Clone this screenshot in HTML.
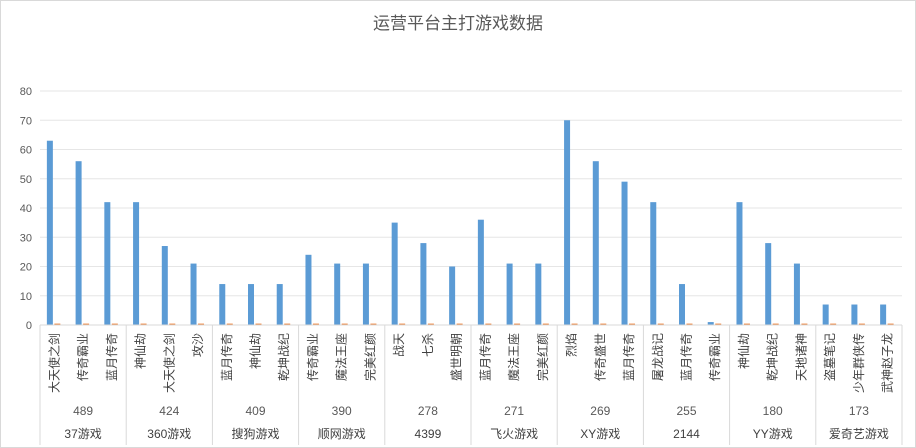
<!DOCTYPE html><html><head><meta charset="utf-8"><style>body{margin:0;background:#fff}svg{display:block}</style></head><body>
<svg width="916" height="448" xmlns="http://www.w3.org/2000/svg" font-family="Liberation Sans, Noto Sans CJK SC, sans-serif">
<rect x="0.5" y="0.5" width="915" height="447" fill="#fff" stroke="#d9d9d9"/>
<text x="458" y="29" text-anchor="middle" font-size="17" fill="#595959">运营平台主打游戏数据</text>
<g stroke="#e6e6e6">
<line x1="40" x2="902" y1="295.75" y2="295.75"/><line x1="40" x2="902" y1="266.5" y2="266.5"/><line x1="40" x2="902" y1="237.25" y2="237.25"/><line x1="40" x2="902" y1="208" y2="208"/><line x1="40" x2="902" y1="178.75" y2="178.75"/><line x1="40" x2="902" y1="149.5" y2="149.5"/><line x1="40" x2="902" y1="120.25" y2="120.25"/><line x1="40" x2="902" y1="91" y2="91"/>
</g>
<g font-size="11" fill="#595959" text-anchor="end">
<text x="32" y="329">0</text><text x="32" y="299.75">10</text><text x="32" y="270.5">20</text><text x="32" y="241.25">30</text><text x="32" y="212">40</text><text x="32" y="182.75">50</text><text x="32" y="153.5">60</text><text x="32" y="124.25">70</text><text x="32" y="95">80</text>
</g>
<g fill="#5b9bd5">
<rect x="46.87" y="140.72" width="6" height="184.28"/>
<rect x="75.6" y="161.2" width="6" height="163.8"/>
<rect x="104.33" y="202.15" width="6" height="122.85"/>
<rect x="133.07" y="202.15" width="6" height="122.85"/>
<rect x="161.8" y="246.02" width="6" height="78.98"/>
<rect x="190.53" y="263.57" width="6" height="61.43"/>
<rect x="219.27" y="284.05" width="6" height="40.95"/>
<rect x="248" y="284.05" width="6" height="40.95"/>
<rect x="276.73" y="284.05" width="6" height="40.95"/>
<rect x="305.47" y="254.8" width="6" height="70.2"/>
<rect x="334.2" y="263.57" width="6" height="61.43"/>
<rect x="362.93" y="263.57" width="6" height="61.43"/>
<rect x="391.67" y="222.62" width="6" height="102.38"/>
<rect x="420.4" y="243.1" width="6" height="81.9"/>
<rect x="449.13" y="266.5" width="6" height="58.5"/>
<rect x="477.87" y="219.7" width="6" height="105.3"/>
<rect x="506.6" y="263.57" width="6" height="61.43"/>
<rect x="535.33" y="263.57" width="6" height="61.43"/>
<rect x="564.07" y="120.25" width="6" height="204.75"/>
<rect x="592.8" y="161.2" width="6" height="163.8"/>
<rect x="621.53" y="181.67" width="6" height="143.33"/>
<rect x="650.27" y="202.15" width="6" height="122.85"/>
<rect x="679" y="284.05" width="6" height="40.95"/>
<rect x="707.73" y="322.07" width="6" height="2.93"/>
<rect x="736.47" y="202.15" width="6" height="122.85"/>
<rect x="765.2" y="243.1" width="6" height="81.9"/>
<rect x="793.93" y="263.57" width="6" height="61.43"/>
<rect x="822.67" y="304.52" width="6" height="20.48"/>
<rect x="851.4" y="304.52" width="6" height="20.48"/>
<rect x="880.13" y="304.52" width="6" height="20.48"/>
</g>
<line x1="54.37" x2="902" y1="324.3" y2="324.3" stroke="#ed7d31" stroke-width="1.4" stroke-dasharray="6 22.733"/>
<line x1="40" x2="902" y1="325" y2="325" stroke="#d9d9d9"/>
<g stroke="#d9d9d9">
<line x1="40" x2="40" y1="325" y2="445"/><line x1="126.2" x2="126.2" y1="325" y2="445"/><line x1="212.4" x2="212.4" y1="325" y2="445"/><line x1="298.6" x2="298.6" y1="325" y2="445"/><line x1="384.8" x2="384.8" y1="325" y2="445"/><line x1="471" x2="471" y1="325" y2="445"/><line x1="557.2" x2="557.2" y1="325" y2="445"/><line x1="643.4" x2="643.4" y1="325" y2="445"/><line x1="729.6" x2="729.6" y1="325" y2="445"/><line x1="815.8" x2="815.8" y1="325" y2="445"/><line x1="902" x2="902" y1="325" y2="445"/>
</g>
<g font-size="12" fill="#404040" text-anchor="end">
<text transform="translate(58.4,333) rotate(-90)">大天使之剑</text>
<text transform="translate(87.1,333) rotate(-90)">传奇霸业</text>
<text transform="translate(115.8,333) rotate(-90)">蓝月传奇</text>
<text transform="translate(144.6,333) rotate(-90)">神仙劫</text>
<text transform="translate(173.3,333) rotate(-90)">大天使之剑</text>
<text transform="translate(202,333) rotate(-90)">攻沙</text>
<text transform="translate(230.8,333) rotate(-90)">蓝月传奇</text>
<text transform="translate(259.5,333) rotate(-90)">神仙劫</text>
<text transform="translate(288.2,333) rotate(-90)">乾坤战纪</text>
<text transform="translate(317,333) rotate(-90)">传奇霸业</text>
<text transform="translate(345.7,333) rotate(-90)">魔法王座</text>
<text transform="translate(374.4,333) rotate(-90)">完美红颜</text>
<text transform="translate(403.2,333) rotate(-90)">战天</text>
<text transform="translate(431.9,333) rotate(-90)">七杀</text>
<text transform="translate(460.6,333) rotate(-90)">盛世明朝</text>
<text transform="translate(489.4,333) rotate(-90)">蓝月传奇</text>
<text transform="translate(518.1,333) rotate(-90)">魔法王座</text>
<text transform="translate(546.8,333) rotate(-90)">完美红颜</text>
<text transform="translate(575.6,333) rotate(-90)">烈焰</text>
<text transform="translate(604.3,333) rotate(-90)">传奇盛世</text>
<text transform="translate(633,333) rotate(-90)">蓝月传奇</text>
<text transform="translate(661.8,333) rotate(-90)">屠龙战记</text>
<text transform="translate(690.5,333) rotate(-90)">蓝月传奇</text>
<text transform="translate(719.2,333) rotate(-90)">传奇霸业</text>
<text transform="translate(748,333) rotate(-90)">神仙劫</text>
<text transform="translate(776.7,333) rotate(-90)">乾坤战纪</text>
<text transform="translate(805.4,333) rotate(-90)">天地诸神</text>
<text transform="translate(834.2,333) rotate(-90)">盗墓笔记</text>
<text transform="translate(862.9,333) rotate(-90)">少年群侠传</text>
<text transform="translate(891.6,333) rotate(-90)">武神赵子龙</text>
</g>
<g font-size="12" fill="#595959" text-anchor="middle">
<text x="83.1" y="415">489</text><text x="169.3" y="415">424</text><text x="255.5" y="415">409</text><text x="341.7" y="415">390</text><text x="427.9" y="415">278</text><text x="514.1" y="415">271</text><text x="600.3" y="415">269</text><text x="686.5" y="415">255</text><text x="772.7" y="415">180</text><text x="858.9" y="415">173</text>
</g>
<g font-size="12" fill="#404040" text-anchor="middle">
<text x="83.1" y="438">37游戏</text><text x="169.3" y="438">360游戏</text><text x="255.5" y="438">搜狗游戏</text><text x="341.7" y="438">顺网游戏</text><text x="427.9" y="438">4399</text><text x="514.1" y="438">飞火游戏</text><text x="600.3" y="438">XY游戏</text><text x="686.5" y="438">2144</text><text x="772.7" y="438">YY游戏</text><text x="858.9" y="438">爱奇艺游戏</text>
</g>
</svg></body></html>
